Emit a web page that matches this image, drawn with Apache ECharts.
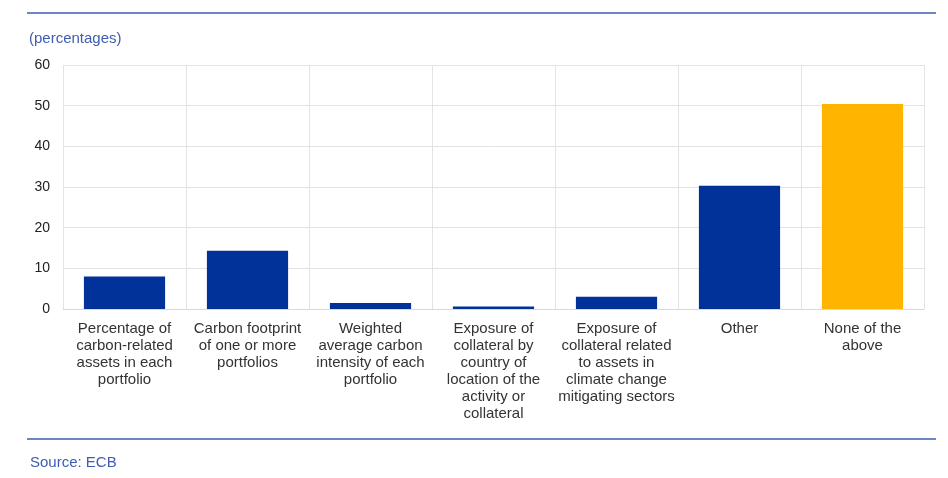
<!DOCTYPE html>
<html><head><meta charset="utf-8">
<script src="https://cdn.jsdelivr.net/npm/echarts@6/dist/echarts.min.js"></script>
<style>html,body{margin:0;padding:0;background:#fff}#c{width:948px;height:478px}</style>
</head><body><div id="c"></div>
<script>
const categories = [
  "Percentage of\ncarbon-related\nassets in each\nportfolio",
  "Carbon footprint\nof one or more\nportfolios",
  "Weighted\naverage carbon\nintensity of each\nportfolio",
  "Exposure of\ncollateral by\ncountry of\nlocation of the\nactivity or\ncollateral",
  "Exposure of\ncollateral related\nto assets in\nclimate change\nmitigating sectors",
  "Other",
  "None of the\nabove"
];
const values = [8, 14.3, 1.5, 0.6, 3, 30.3, 50.4];
const barColors = ["#003299","#003299","#003299","#003299","#003299","#003299","#FFB400"];
const yTicks = [0, 10, 20, 30, 40, 50, 60];

const chart = echarts.init(document.getElementById('c'));
chart.setOption({
  animation: false,
  textStyle: {fontFamily: 'Liberation Sans, Arial, sans-serif'},
  grid: {left: 63, right: 24, top: 65, bottom: 169},
  xAxis: {
    type: 'category', data: categories,
    axisLine: {lineStyle: {color: '#d9d9d9', width: 1}},
    axisTick: {show: false},
    splitLine: {show: true, lineStyle: {color: '#e3e3e3', width: 1}},
    axisLabel: {color: '#333', fontSize: 15, lineHeight: 17, margin: 11, interval: 0, align: 'center'}
  },
  yAxis: {
    type: 'value', min: yTicks[0], max: yTicks[yTicks.length-1], interval: 10,
    axisLine: {show: false}, axisTick: {show: false},
    splitLine: {lineStyle: {color: '#e3e3e3', width: 1}},
    axisLabel: {color: '#222', fontSize: 14, margin: 13}
  },
  series: [{
    type: 'bar', barWidth: '66%',
    data: values.map((v, i) => ({value: v, itemStyle: {color: barColors[i]}}))
  }],
  graphic: [
    {type: 'line', shape: {x1: 27, y1: 13, x2: 936, y2: 13}, style: {stroke: '#3D5DB0', lineWidth: 1.5}},
    {type: 'line', shape: {x1: 27, y1: 439, x2: 936, y2: 439}, style: {stroke: '#3D5DB0', lineWidth: 1.5}},
    {type: 'text', left: 29, top: 31, style: {text: '(percentages)', fill: '#3D5DB0', font: '15px Liberation Sans, Arial, sans-serif'}},
    {type: 'text', left: 30, top: 455, style: {text: 'Source: ECB', fill: '#3D5DB0', font: '15px Liberation Sans, Arial, sans-serif'}}
  ]
});
</script></body></html>
